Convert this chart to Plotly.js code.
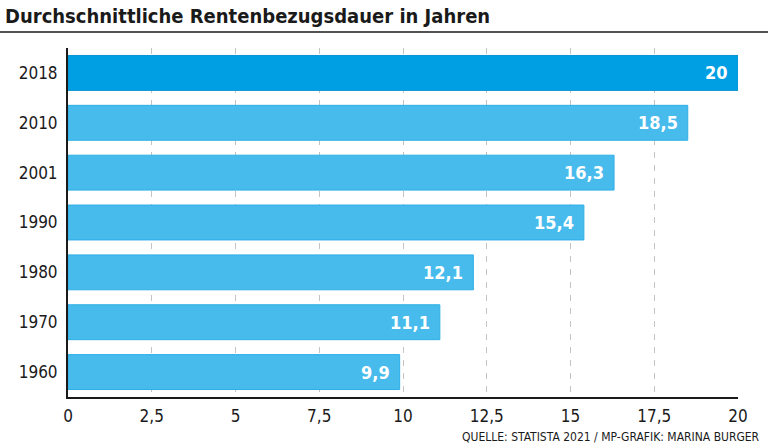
<!DOCTYPE html>
<html><head><meta charset="utf-8">
<script src="https://cdn.plot.ly/plotly-3.0.1.min.js"></script>
<style>html,body{margin:0;padding:0;background:#fff}#chart{width:768px;height:447px}</style>
</head><body><div id="chart"></div>
<script>
const years = ['2018','2010','2001','1990','1980','1970','1960'];
const values = [20, 18.5, 16.3, 15.4, 12.1, 11.1, 9.9];
const highlightYear = '2018';
const xTickVals = [0, 2.5, 5, 7.5, 10, 12.5, 15, 17.5, 20];
const xTickText = ['0','2,5','5','7,5','10','12,5','15','17,5','20'];
const titleText = 'Durchschnittliche Rentenbezugsdauer in Jahren';
const sourceText = 'QUELLE: STATISTA 2021 / MP-GRAFIK: MARINA BURGER';

const FONT = '"DejaVu Sans Condensed", "DejaVu Sans", sans-serif';
const W = 768, H = 447, L = 68, R = 30, T = 47.5, B = 50;
const pw = W - L - R, ph = H - T - B;
const px = x => (x - L) / pw;
const py = y => 1 - (y - T) / ph;

const colors = years.map(y => y === highlightYear ? '#009fe3' : '#48bbed');
const lineColors = years.map(y => y === highlightYear ? '#0b94d2' : '#2eaee6');
const fmt = v => String(v).replace('.', ',');

const trace = {
  type: 'bar', orientation: 'h',
  x: values, y: years,
  marker: {color: colors, line: {color: lineColors, width: 1}},
  hoverinfo: 'skip'
};

const annotations = years.map((y, i) => ({
  x: values[i], y: i, xref: 'x', yref: 'y',
  text: '<b>' + fmt(values[i]) + '</b>', showarrow: false,
  xanchor: 'right', yanchor: 'middle', xshift: -8,
  font: {family: FONT, size: 18, color: '#ffffff'}
}));
annotations.push({
  xref: 'paper', yref: 'paper', x: px(762), y: py(437),
  xanchor: 'right', yanchor: 'middle', showarrow: false,
  text: sourceText, font: {family: FONT, size: 12, color: '#1a1a1a'}
});

const layout = {
  width: W, height: H,
  margin: {l: L, r: R, t: T, b: B, pad: 0},
  paper_bgcolor: '#ffffff', plot_bgcolor: '#ffffff',
  showlegend: false,
  bargap: 0.3,
  title: {
    text: '<b>' + titleText + '</b>',
    x: 5 / W, xref: 'container', xanchor: 'left',
    y: 1 - 16 / H, yref: 'container', yanchor: 'middle',
    font: {family: FONT, size: 20, color: '#1a1a1a'}
  },
  xaxis: {
    range: [0, 20], fixedrange: true,
    tickmode: 'array', tickvals: xTickVals, ticktext: xTickText,
    showgrid: true, gridcolor: '#c4c4c4', gridwidth: 1, griddash: '6px,7px',
    zeroline: false,
    showline: true, linecolor: '#1a1a1a', linewidth: 2,
    ticks: '', ticklabelstandoff: 3,
    tickfont: {family: FONT, size: 17, color: '#1a1a1a'}
  },
  yaxis: {
    type: 'category', categoryorder: 'array', categoryarray: years,
    range: [years.length - 0.5, -0.5], fixedrange: true,
    showgrid: false, zeroline: false,
    showline: true, linecolor: '#1a1a1a', linewidth: 2,
    ticks: '', ticklabelstandoff: 5,
    tickfont: {family: FONT, size: 17, color: '#1a1a1a'}
  },
  shapes: [{
    type: 'line', xref: 'paper', yref: 'paper',
    x0: px(0), x1: px(768), y0: py(31.5), y1: py(31.5),
    line: {color: '#1a1a1a', width: 1.5}
  }],
  annotations: annotations
};

Plotly.newPlot('chart', [trace], layout, {displayModeBar: false, staticPlot: true});
</script></body></html>
